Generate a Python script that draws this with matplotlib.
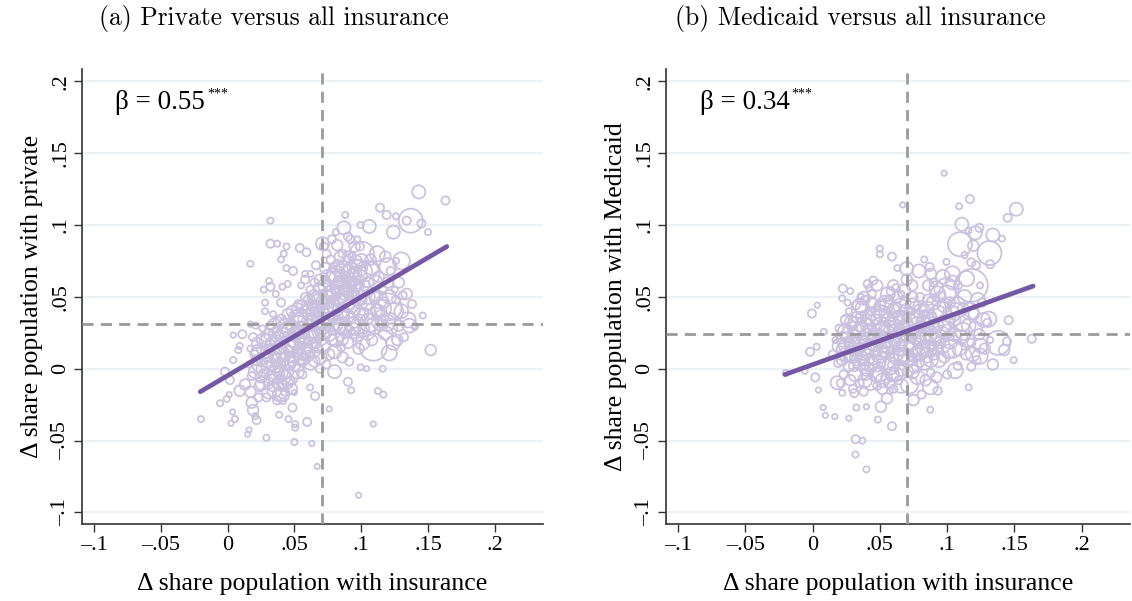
import matplotlib
matplotlib.use('Agg')
import matplotlib.pyplot as plt

plt.rcParams['font.family'] = ['Liberation Serif', 'DejaVu Serif']

# binned changes (x = d insurance, y = d private / d medicaid, w = marker weight)
priv_points = [
    # dense lower-left part
    (0.020, 0.010, 35), (0.022, 0.018, 60), (0.025, 0.005, 35), (0.027, -0.004, 60), (0.028, 0.022, 35),
    (0.030, 0.012, 100), (0.031, -0.010, 60), (0.032, 0.030, 35), (0.033, 0.002, 60), (0.034, 0.020, 35),
    (0.035, -0.015, 100), (0.036, 0.008, 60), (0.037, 0.026, 35), (0.038, -0.005, 35), (0.039, 0.015, 100),
    (0.040, 0.034, 60), (0.041, -0.012, 60), (0.042, 0.004, 35), (0.043, 0.022, 60), (0.044, -0.002, 100),
    (0.045, 0.030, 35), (0.046, 0.012, 60), (0.047, -0.008, 35), (0.048, 0.040, 60), (0.049, 0.020, 100),
    (0.050, 0.002, 60), (0.051, 0.028, 35), (0.052, 0.010, 60), (0.053, 0.045, 35), (0.054, 0.018, 60),
    (0.055, 0.035, 100), (0.056, -0.004, 35), (0.057, 0.025, 60), (0.058, 0.050, 35), (0.059, 0.014, 60),
    (0.060, 0.032, 35), (0.018, -0.005, 35), (0.016, 0.003, 20), (0.024, -0.012, 60), (0.026, 0.028, 20),
    (0.029, -0.020, 35), (0.021, 0.030, 20), (0.023, -0.020, 35), (0.034, 0.038, 20), (0.037, -0.022, 35),
    (0.040, 0.046, 35), (0.043, -0.016, 35), (0.019, 0.022, 35), (0.017, 0.014, 20), (0.028, 0.040, 20),
    (0.036, 0.052, 20),
    (0.024, 0.002, 100), (0.026, 0.014, 60), (0.029, 0.006, 100), (0.031, 0.024, 60), (0.033, -0.006, 100),
    (0.035, 0.016, 150), (0.037, 0.000, 100), (0.038, 0.032, 60), (0.040, 0.010, 150), (0.041, 0.024, 100),
    (0.042, -0.006, 100), (0.044, 0.016, 150), (0.045, 0.038, 60), (0.046, 0.004, 100), (0.047, 0.026, 150),
    (0.048, -0.014, 60), (0.050, 0.014, 150), (0.051, 0.036, 100), (0.052, -0.002, 100), (0.053, 0.024, 150),
    (0.055, 0.008, 100), (0.056, 0.044, 60), (0.057, 0.016, 150), (0.058, 0.034, 100), (0.060, 0.022, 150),
    (0.061, 0.048, 60), (0.062, 0.004, 100), (0.063, 0.032, 100), (0.064, 0.014, 150), (0.049, 0.008, 60),
    (0.043, 0.030, 100), (0.039, 0.004, 60), (0.036, 0.024, 100), (0.032, 0.016, 60), (0.030, 0.004, 60),
    (0.027, 0.020, 100), (0.034, -0.012, 60), (0.041, -0.018, 100), (0.045, -0.010, 60), (0.039, -0.010, 100),
    (0.031, -0.016, 100), (0.025, -0.006, 60), (0.022, 0.006, 60), (0.048, 0.030, 60), (0.052, 0.042, 60),
    (0.057, 0.006, 60), (0.054, 0.028, 100), (0.059, 0.040, 60),
    (0.033, 0.010, 150), (0.036, -0.004, 150), (0.038, 0.020, 150), (0.040, -0.002, 100), (0.042, 0.012, 150),
    (0.044, 0.026, 150), (0.046, -0.006, 150), (0.048, 0.016, 150), (0.050, 0.024, 100), (0.052, 0.004, 150),
    (0.054, 0.036, 150), (0.056, 0.012, 150), (0.058, 0.022, 150), (0.060, 0.010, 100), (0.030, 0.018, 150),
    (0.028, 0.000, 150), (0.026, -0.010, 100), (0.035, 0.030, 100), (0.037, 0.010, 150), (0.039, -0.018, 100),
    (0.044, 0.006, 150), (0.047, 0.018, 150), (0.051, 0.020, 150), (0.053, 0.032, 100), (0.023, 0.012, 100),
    (0.021, -0.002, 100),
    # upper middle
    (0.060, 0.042, 60), (0.062, 0.055, 35), (0.063, 0.025, 60), (0.064, 0.038, 100), (0.065, 0.060, 35),
    (0.066, 0.018, 60), (0.067, 0.048, 60), (0.068, 0.030, 35), (0.069, 0.062, 60), (0.070, 0.040, 100),
    (0.071, 0.052, 35), (0.072, 0.024, 60), (0.073, 0.070, 60), (0.074, 0.045, 60), (0.075, 0.034, 100),
    (0.076, 0.058, 60), (0.077, 0.076, 35), (0.078, 0.048, 35), (0.079, 0.065, 100), (0.080, 0.028, 60),
    (0.081, 0.055, 60), (0.082, 0.042, 35), (0.083, 0.072, 60), (0.084, 0.060, 100), (0.085, 0.050, 60),
    (0.086, 0.080, 35), (0.087, 0.036, 60), (0.088, 0.064, 60), (0.089, 0.055, 100), (0.090, 0.070, 35),
    (0.091, 0.045, 60), (0.092, 0.060, 60), (0.093, 0.078, 35), (0.094, 0.052, 60), (0.095, 0.066, 100),
    (0.096, 0.040, 35), (0.097, 0.072, 60), (0.098, 0.058, 60), (0.099, 0.085, 35), (0.100, 0.048, 60),
    (0.074, 0.080, 35), (0.072, 0.085, 35), (0.078, 0.090, 35), (0.082, 0.086, 60), (0.066, 0.072, 35),
    (0.062, 0.066, 20), (0.058, 0.062, 35), (0.061, 0.010, 35), (0.065, 0.005, 60), (0.068, 0.014, 35),
    (0.055, 0.058, 20),
    (0.066, 0.042, 100), (0.067, 0.026, 150), (0.068, 0.056, 60), (0.069, 0.008, 100), (0.070, 0.034, 150),
    (0.071, 0.046, 100), (0.072, 0.016, 100), (0.073, 0.058, 100), (0.074, 0.038, 150), (0.075, 0.050, 100),
    (0.076, 0.024, 100), (0.077, 0.064, 60), (0.078, 0.040, 150), (0.079, 0.054, 100), (0.080, 0.070, 60),
    (0.081, 0.036, 100), (0.082, 0.062, 150), (0.083, 0.048, 100), (0.084, 0.078, 60), (0.085, 0.058, 150),
    (0.086, 0.040, 100), (0.087, 0.070, 100), (0.088, 0.050, 150), (0.089, 0.062, 60), (0.090, 0.078, 60),
    (0.091, 0.058, 100), (0.092, 0.068, 150), (0.093, 0.044, 100), (0.094, 0.062, 100), (0.096, 0.074, 100),
    (0.097, 0.050, 150), (0.099, 0.064, 100), (0.101, 0.056, 150), (0.103, 0.068, 100), (0.070, 0.020, 60),
    (0.068, 0.040, 60), (0.065, 0.050, 100), (0.061, 0.030, 60), (0.064, 0.044, 60),
    (0.062, 0.040, 150), (0.064, 0.024, 150), (0.066, 0.034, 150), (0.068, 0.048, 150), (0.071, 0.030, 150),
    (0.073, 0.044, 150), (0.075, 0.064, 100), (0.077, 0.052, 150), (0.079, 0.044, 100), (0.081, 0.066, 150),
    (0.083, 0.056, 150), (0.085, 0.068, 100), (0.087, 0.054, 150), (0.089, 0.046, 150), (0.091, 0.066, 150),
    (0.093, 0.056, 150), (0.095, 0.058, 100), (0.098, 0.070, 150), (0.076, 0.040, 150),
    # right part
    (0.078, 0.020, 60), (0.080, 0.012, 100), (0.082, 0.030, 60), (0.084, 0.022, 35), (0.086, 0.008, 60),
    (0.088, 0.028, 100), (0.090, 0.018, 60), (0.092, 0.035, 60), (0.094, 0.024, 35), (0.096, 0.030, 180),
    (0.098, 0.014, 60), (0.100, 0.038, 100), (0.102, 0.028, 60), (0.104, 0.045, 100), (0.106, 0.032, 180),
    (0.108, 0.020, 60), (0.110, 0.050, 60), (0.112, 0.040, 100), (0.114, 0.030, 60), (0.116, 0.055, 35),
    (0.118, 0.025, 100), (0.120, 0.060, 60), (0.122, 0.035, 60), (0.124, 0.018, 100), (0.126, 0.048, 35),
    (0.128, 0.030, 60), (0.130, 0.040, 100), (0.132, 0.022, 35), (0.134, 0.052, 60), (0.136, 0.030, 100),
    (0.138, 0.045, 35), (0.140, 0.030, 20), (0.105, 0.060, 60), (0.108, 0.070, 100), (0.113, 0.064, 60),
    (0.118, 0.078, 60), (0.122, 0.068, 35), (0.095, 0.085, 60), (0.100, 0.075, 100), (0.090, 0.092, 35),
    (0.128, 0.060, 60), (0.085, 0.015, 35), (0.076, 0.010, 60), (0.074, 0.003, 35), (0.091, 0.005, 35),
    (0.105, 0.050, 100), (0.107, 0.076, 60), (0.109, 0.040, 150), (0.111, 0.060, 100), (0.113, 0.048, 150),
    (0.115, 0.036, 100), (0.117, 0.046, 60), (0.119, 0.032, 150), (0.121, 0.050, 100), (0.123, 0.028, 60),
    (0.125, 0.040, 150), (0.127, 0.020, 60), (0.097, 0.024, 100), (0.099, 0.034, 60), (0.101, 0.018, 100),
    (0.103, 0.036, 150), (0.089, 0.036, 100), (0.091, 0.026, 60), (0.084, 0.030, 100), (0.086, 0.020, 60),
    (0.079, 0.030, 60), (0.081, 0.020, 100), (0.110, 0.030, 150), (0.116, 0.042, 150), (0.104, 0.026, 150),
    (0.094, 0.030, 150), (0.086, 0.030, 150),
    # outer points
    (0.032, 0.103, 20), (0.032, 0.087, 35), (0.037, 0.087, 20), (0.044, 0.085, 20), (0.054, 0.084, 35),
    (0.059, 0.081, 35), (0.017, 0.073, 20), (0.042, 0.080, 20), (0.040, 0.076, 20), (0.044, 0.070, 20),
    (0.049, 0.068, 35), (0.058, 0.066, 20), (0.031, 0.061, 20), (0.032, 0.057, 35), (0.027, 0.055, 20),
    (0.041, 0.057, 20), (0.045, 0.059, 20), (0.028, 0.046, 20), (0.088, 0.107, 20), (0.114, 0.112, 35),
    (0.119, 0.107, 35), (0.126, 0.106, 20), (0.143, 0.123, 90), (0.163, 0.117, 35), (0.137, 0.103, 300),
    (0.145, 0.101, 35), (0.150, 0.095, 20), (0.134, 0.103, 35), (0.0995, 0.100, 20), (0.106, 0.099, 90),
    (0.124, 0.095, 90), (0.087, 0.098, 90), (0.071, 0.087, 90), (0.081, 0.095, 20), (0.092, 0.090, 35),
    (0.097, 0.090, 20), (0.130, 0.075, 150), (0.120, 0.071, 150), (0.126, 0.075, 20), (0.1005, 0.080, 300),
    (0.112, 0.080, 120), (0.120, 0.043, 380), (0.109, 0.015, 380), (0.104, 0.066, 350), (0.152, 0.013, 60),
    (0.146, 0.037, 20), (0.140, 0.029, 20), (0.135, 0.034, 120), (0.131, 0.051, 35), (0.125, 0.055, 20),
    (0.121, 0.011, 120), (0.116, 0.000, 20), (0.0995, 0.001, 20), (0.104, 0.000, 15), (0.080, -0.002, 90),
    (0.069, 0.000, 35), (0.090, -0.009, 35), (0.0925, -0.015, 20), (0.1125, -0.0155, 20), (0.1165, -0.018, 20),
    (0.076, -0.028, 15), (0.109, -0.0385, 15), (0.098, -0.088, 15), (0.067, -0.068, 15), (0.063, -0.052, 15),
    (0.050, -0.051, 20), (0.0505, -0.041, 20), (0.0505, -0.0385, 20), (0.0455, -0.035, 20), (0.0595, -0.037, 35),
    (0.0485, -0.027, 35), (0.0386, -0.032, 20), (0.0415, -0.0225, 20), (0.0654, -0.019, 35), (0.0617, -0.013, 20),
    (0.0498, -0.0165, 15), (0.029, -0.048, 20), (0.015, -0.0455, 15), (0.016, -0.0426, 15), (0.0216, -0.0357, 35),
    (0.0206, -0.033, 20), (0.0055, -0.035, 20), (0.0025, -0.038, 15), (0.0037, -0.030, 15), (-0.0057, -0.024, 20),
    (-0.020, -0.035, 20), (-0.0007, -0.021, 20), (0.0012, -0.018, 15), (0.009, -0.0153, 60), (0.017, -0.016, 60),
    (0.018, -0.0236, 60), (0.019, -0.0287, 60), (-0.002, -0.002, 35), (0.0042, 0.006, 20), (0.008, 0.013, 20),
    (0.009, 0.0158, 20), (0.0042, 0.0234, 15), (0.011, 0.024, 35), (0.017, 0.031, 15), (0.0017, -0.0079, 35),
    (0.013, -0.011, 60),
]

medi_points = [
    # dense blob
    (0.015, 0.010, 35), (0.017, 0.020, 20), (0.019, 0.004, 35), (0.020, 0.028, 35), (0.022, 0.014, 60),
    (0.023, -0.004, 35), (0.024, 0.034, 35), (0.025, 0.022, 60), (0.026, 0.008, 35), (0.027, 0.040, 20),
    (0.028, -0.008, 60), (0.029, 0.018, 100), (0.030, 0.030, 35), (0.031, 0.002, 60), (0.032, 0.044, 35),
    (0.033, 0.012, 60), (0.034, 0.026, 100), (0.035, -0.010, 35), (0.036, 0.036, 60), (0.037, 0.006, 60),
    (0.038, 0.020, 35), (0.039, 0.048, 35), (0.040, -0.004, 60), (0.041, 0.030, 100), (0.042, 0.014, 60),
    (0.043, 0.040, 35), (0.044, 0.000, 35), (0.045, 0.024, 60), (0.046, 0.008, 100), (0.047, 0.034, 60),
    (0.048, -0.012, 35), (0.049, 0.018, 60), (0.050, 0.044, 60), (0.051, 0.004, 35), (0.052, 0.028, 100),
    (0.053, 0.012, 60), (0.054, 0.038, 35), (0.055, -0.006, 60), (0.056, 0.022, 60), (0.057, 0.048, 35),
    (0.058, 0.010, 35), (0.059, 0.032, 100), (0.060, 0.002, 60), (0.061, 0.018, 60), (0.062, 0.042, 60),
    (0.063, 0.026, 35), (0.064, -0.008, 35), (0.065, 0.014, 100), (0.066, 0.036, 60), (0.067, 0.006, 60),
    (0.068, 0.022, 35), (0.069, 0.046, 60), (0.070, 0.030, 100), (0.071, -0.002, 60), (0.072, 0.016, 60),
    (0.073, 0.040, 35), (0.074, 0.008, 35), (0.075, 0.026, 60), (0.076, 0.034, 100), (0.077, 0.012, 60),
    (0.078, 0.044, 35), (0.079, 0.020, 60), (0.080, 0.004, 35), (0.081, 0.030, 60), (0.082, 0.014, 100),
    (0.083, 0.038, 35), (0.084, 0.022, 60), (0.085, 0.008, 60), (0.086, 0.048, 60), (0.087, 0.028, 35),
    (0.088, 0.016, 60), (0.089, 0.036, 35), (0.090, 0.010, 60), (0.036, 0.050, 20), (0.044, 0.052, 35),
    (0.030, -0.014, 35), (0.038, -0.016, 35), (0.052, -0.014, 60), (0.060, -0.014, 35), (0.042, 0.056, 20),
    (0.058, 0.054, 35), (0.066, 0.052, 20), (0.026, 0.046, 20), (0.021, -0.010, 35), (0.062, 0.056, 35),
    (0.074, 0.050, 60), (0.080, 0.050, 35), (0.048, 0.058, 60),
    (0.020, 0.016, 100), (0.022, 0.006, 60), (0.024, 0.026, 100), (0.026, 0.016, 150), (0.027, 0.002, 60),
    (0.029, 0.032, 100), (0.030, 0.010, 150), (0.031, 0.022, 100), (0.032, -0.004, 100), (0.033, 0.036, 60),
    (0.034, 0.016, 150), (0.035, 0.004, 100), (0.036, 0.026, 150), (0.037, 0.042, 100), (0.038, 0.012, 150),
    (0.039, -0.008, 100), (0.040, 0.022, 150), (0.041, 0.036, 100), (0.042, 0.004, 150), (0.043, 0.026, 100),
    (0.044, 0.046, 60), (0.045, 0.014, 150), (0.046, 0.032, 150), (0.047, -0.004, 100), (0.048, 0.022, 150),
    (0.049, 0.040, 100), (0.050, 0.010, 150), (0.051, 0.030, 150), (0.052, -0.008, 100), (0.053, 0.020, 150),
    (0.054, 0.046, 100), (0.055, 0.006, 150), (0.056, 0.034, 100), (0.057, 0.016, 150), (0.058, 0.026, 100),
    (0.059, -0.004, 100), (0.060, 0.040, 100), (0.061, 0.010, 150), (0.062, 0.028, 150), (0.063, 0.050, 60),
    (0.064, 0.018, 150), (0.065, 0.036, 100), (0.066, 0.000, 100), (0.067, 0.026, 150), (0.068, 0.010, 100),
    (0.069, 0.040, 100), (0.070, 0.018, 150), (0.071, 0.006, 100), (0.072, 0.032, 150), (0.073, 0.024, 100),
    (0.074, 0.044, 100), (0.075, 0.014, 150), (0.076, 0.002, 100), (0.077, 0.036, 100), (0.078, 0.022, 150),
    (0.079, 0.010, 100), (0.080, 0.040, 100), (0.081, 0.020, 150), (0.082, 0.032, 100), (0.083, 0.004, 100),
    (0.084, 0.014, 150), (0.085, 0.042, 100), (0.086, 0.024, 150), (0.087, 0.036, 100), (0.088, 0.006, 100),
    (0.089, 0.020, 150), (0.090, 0.046, 100), (0.091, 0.014, 100), (0.074, 0.058, 60), (0.070, 0.062, 60),
    (0.060, 0.058, 60), (0.056, 0.052, 100), (0.028, 0.010, 100), (0.025, 0.034, 60), (0.043, -0.010, 100),
    (0.057, -0.010, 60), (0.066, -0.012, 100), (0.078, -0.006, 100), (0.084, -0.008, 60),
    (0.028, 0.024, 150), (0.030, 0.016, 150), (0.032, 0.030, 150), (0.034, 0.008, 150), (0.036, 0.018, 150),
    (0.038, 0.030, 150), (0.040, 0.008, 150), (0.042, 0.024, 150), (0.044, 0.036, 150), (0.046, 0.018, 150),
    (0.048, 0.004, 150), (0.050, 0.026, 150), (0.052, 0.038, 150), (0.054, 0.014, 150), (0.056, 0.028, 150),
    (0.058, 0.002, 150), (0.060, 0.020, 150), (0.062, 0.034, 150), (0.064, 0.008, 150), (0.066, 0.022, 150),
    (0.068, 0.032, 150), (0.070, 0.008, 150), (0.072, 0.024, 150), (0.074, 0.036, 150), (0.076, 0.016, 150),
    (0.078, 0.030, 150), (0.080, 0.012, 150), (0.082, 0.024, 150), (0.084, 0.034, 150), (0.086, 0.014, 150),
    (0.088, 0.030, 150), (0.090, 0.022, 150), (0.035, 0.044, 100), (0.045, 0.044, 100), (0.055, 0.044, 100),
    (0.065, 0.044, 100), (0.040, 0.000, 100), (0.050, -0.004, 100), (0.062, -0.004, 100), (0.074, -0.002, 100),
    (0.025, 0.010, 100), (0.023, 0.020, 100),
    # right part
    (0.092, 0.030, 100), (0.094, 0.018, 60), (0.096, 0.040, 180), (0.098, 0.008, 60), (0.100, 0.026, 100),
    (0.102, 0.046, 60), (0.104, 0.014, 180), (0.106, 0.034, 60), (0.108, 0.002, 35), (0.110, 0.022, 100),
    (0.112, 0.042, 60), (0.114, 0.010, 60), (0.116, 0.030, 100), (0.118, 0.018, 35), (0.120, 0.038, 60),
    (0.122, 0.006, 35), (0.124, 0.024, 60), (0.126, 0.046, 35), (0.128, 0.014, 60), (0.130, 0.032, 35),
    (0.095, 0.050, 60), (0.090, 0.060, 35), (0.086, 0.058, 60), (0.108, 0.058, 35), (0.132, 0.020, 20),
    (0.100, -0.004, 35), (0.092, -0.006, 60),
    (0.093, 0.038, 150), (0.094, 0.006, 100), (0.095, 0.024, 150), (0.097, 0.016, 100), (0.098, 0.044, 100),
    (0.099, 0.032, 150), (0.101, 0.012, 100), (0.103, 0.038, 150), (0.105, 0.024, 100), (0.107, 0.044, 150),
    (0.109, 0.014, 100), (0.111, 0.032, 150), (0.113, 0.050, 100), (0.115, 0.020, 100), (0.117, 0.040, 150),
    (0.119, 0.010, 100), (0.121, 0.028, 100), (0.123, 0.048, 100), (0.125, 0.016, 100), (0.127, 0.034, 100),
    (0.100, 0.052, 150), (0.104, 0.060, 100), (0.097, 0.064, 100), (0.092, 0.056, 100), (0.088, 0.066, 60),
    (0.096, 0.028, 150), (0.102, 0.020, 150), (0.106, 0.040, 150), (0.112, 0.026, 150),
    # outer points
    (0.0978, 0.136, 15), (0.067, 0.114, 15), (0.117, 0.118, 35), (0.109, 0.113, 20), (0.1515, 0.111, 90),
    (0.145, 0.105, 35), (0.111, 0.1005, 90), (0.124, 0.098, 35), (0.121, 0.0945, 90), (0.116, 0.096, 20),
    (0.1095, 0.0866, 300), (0.1195, 0.0856, 60), (0.134, 0.093, 90), (0.1408, 0.0905, 20), (0.1315, 0.0805, 300),
    (0.113, 0.079, 20), (0.118, 0.074, 35), (0.1215, 0.072, 35), (0.132, 0.0727, 35), (0.118, 0.058, 560),
    (0.1145, 0.0627, 120), (0.1245, 0.058, 20), (0.104, 0.066, 120), (0.0995, 0.0546, 300), (0.093, 0.052, 120),
    (0.131, 0.0345, 120), (0.1458, 0.0338, 35), (0.138, 0.018, 300), (0.1425, 0.013, 60), (0.1495, 0.006, 20),
    (0.163, 0.0208, 35), (0.1445, 0.019, 35), (0.134, 0.003, 60), (0.1245, 0.0088, 120), (0.116, -0.013, 20),
    (0.118, 0.0014, 35), (0.106, -0.0014, 120), (0.0875, -0.0285, 20), (0.093, -0.0153, 35), (0.0875, -0.0125, 120),
    (0.081, -0.018, 35), (0.075, -0.0218, 60), (0.072, -0.0113, 150), (0.0878, -0.003, 35), (0.059, -0.040, 35),
    (0.0485, -0.0354, 20), (0.0553, -0.0206, 60), (0.0508, -0.0264, 60), (0.0575, -0.0155, 20), (0.040, -0.0264, 15),
    (0.032, -0.049, 35), (0.037, -0.050, 20), (0.0318, -0.0597, 20), (0.040, -0.070, 20), (0.027, -0.0345, 15),
    (0.0325, -0.027, 20), (0.0165, -0.0333, 15), (0.0095, -0.0324, 15), (0.0078, -0.027, 15), (0.0043, -0.0148, 15),
    (0.002, -0.006, 35), (-0.0058, -0.0014, 20), (-0.020, -0.003, 20), (-0.0018, 0.0118, 35), (0.003, 0.0153, 20),
    (-0.0005, 0.0384, 35), (0.0035, 0.0442, 15), (0.0083, 0.0257, 20), (0.0183, -0.0097, 90), (0.022, -0.0167, 20),
    (0.031, -0.017, 35), (0.0225, 0.0558, 35), (0.028, 0.054, 20), (0.022, 0.049, 20), (0.041, 0.059, 35),
    (0.045, 0.0613, 35), (0.050, 0.0836, 20), (0.050, 0.0796, 20), (0.059, 0.078, 35), (0.063, 0.070, 20),
    (0.070, 0.0697, 90), (0.079, 0.068, 90), (0.083, 0.076, 20), (0.087, 0.0708, 35), (0.0995, 0.0743, 20),
    (0.068, 0.054, 90), (0.038, 0.049, 90),
]

# fitted lines (end points) and sample means
fit_x = [-0.0205, 0.164]
priv_fit_y = [-0.016, 0.085]
medi_fit_y = [-0.004, 0.0575]
mean_x = [0.0705, 0.0702]
mean_y = [0.031, 0.0242]

panel_titles = ['(a) Private versus all insurance', '(b) Medicaid versus all insurance']
y_labels = ['Δ share population with private', 'Δ share population with Medicaid']
betas = ['β = 0.55', 'β = 0.34']

x_ticks = [-0.1, -0.05, 0, 0.05, 0.1, 0.15, 0.2]
x_tick_labels = ['–.1', '–.05', '0', '.05', '.1', '.15', '.2']
y_ticks = [-0.1, -0.05, 0, 0.05, 0.1, 0.15, 0.2]
y_tick_labels = ['–.1', '–.05', '0', '.05', '.1', '.15', '.2']

dot_color = '#c9c1de'
line_color = '#7458a4'
ref_color = '#9b9b9b'
grid_color = '#e6eef1'

fig = plt.figure(figsize=(11.32, 6.01), dpi=100)
ax1 = fig.add_axes([82 / 1132, 1 - 524 / 601, 461 / 1132, 455 / 601])
ax2 = fig.add_axes([666 / 1132, 1 - 524 / 601, 464 / 1132, 455 / 601])

panels = [(ax1, priv_points, priv_fit_y), (ax2, medi_points, medi_fit_y)]
for i, (ax, pts, fit_y) in enumerate(panels):
    xs = [p[0] for p in pts]
    ys = [p[1] for p in pts]
    ws = [p[2] for p in pts]

    ax.set_xlim(-0.109, 0.236)
    ax.set_ylim(-0.108, 0.2085)
    for yt in y_ticks:
        ax.axhline(yt, color=grid_color, lw=1.1, zorder=0)

    ax.scatter(xs, ys, s=ws, facecolors='none', edgecolors=dot_color, linewidths=1.25, zorder=2)
    ax.axvline(mean_x[i], color=ref_color, lw=2, ls=(0, (4, 2.6)), zorder=3)
    ax.axhline(mean_y[i], color=ref_color, lw=2, ls=(0, (4, 2.6)), zorder=3)
    ax.plot(fit_x, fit_y, color=line_color, lw=3.4, solid_capstyle='round', zorder=4)

    t = ax.text(-0.084, 0.181, betas[i], fontsize=19.5, ha='left', va='baseline')
    ax.annotate('***', xy=(1, 1.08), xycoords=t, xytext=(1.5, 0), textcoords='offset points',
                fontsize=10, ha='left', va='top')

    ax.set_xticks(x_ticks)
    ax.set_xticklabels(x_tick_labels, fontsize=16)
    ax.set_yticks(y_ticks)
    ax.set_yticklabels(y_tick_labels, fontsize=16, rotation=90, va='center')
    ax.tick_params(length=5.5, width=1, color='#333333', pad=3)

    for side in ['top', 'right']:
        ax.spines[side].set_visible(False)
    for side in ['left', 'bottom']:
        ax.spines[side].set_color('#333333')
        ax.spines[side].set_linewidth(1.2)

    ax.set_xlabel('Δ share population with insurance', fontsize=18.5, labelpad=13)
    ax.set_ylabel(y_labels[i], fontsize=18.5, labelpad=6)

# captions are set in Computer Modern in the source
fig.text(274 / 1132, 1 - 19 / 601, panel_titles[0], fontsize=18.4, family='cmr10', ha='center', va='center')
fig.text(860 / 1132, 1 - 19 / 601, panel_titles[1], fontsize=18.4, family='cmr10', ha='center', va='center')

fig.savefig('out.png', dpi=100)
